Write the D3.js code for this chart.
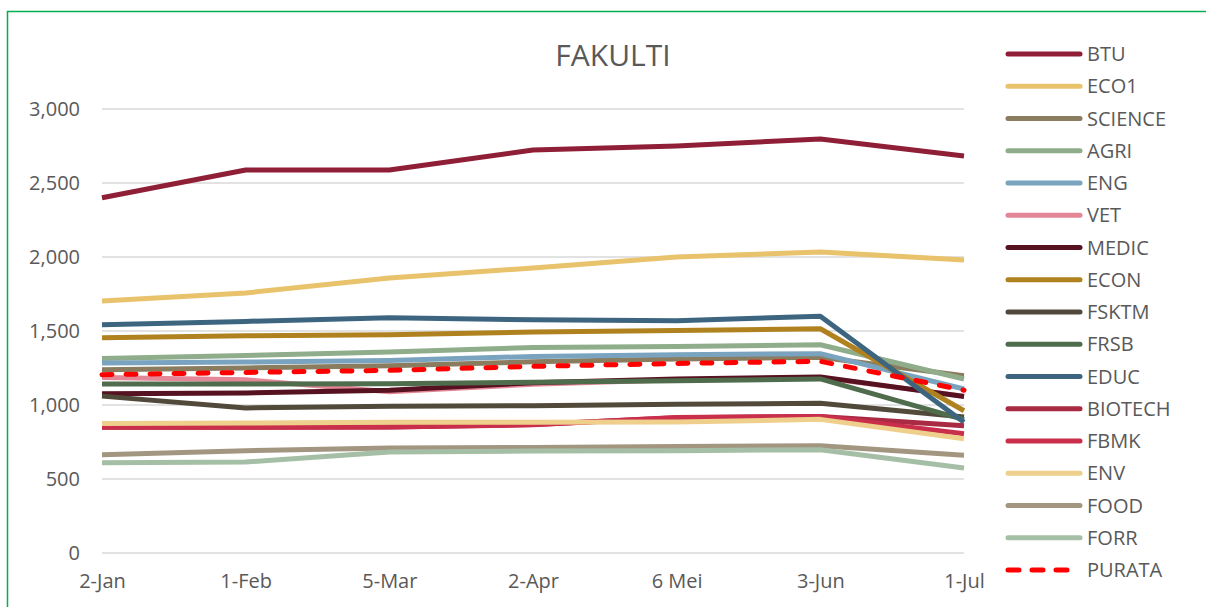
<!DOCTYPE html>
<html>
<head>
<meta charset="utf-8">
<script src="https://cdn.jsdelivr.net/npm/d3@7"></script>
<style>
  body { margin: 0; background: #ffffff; }
  text { font-family: "Open Sans", "Liberation Sans", Arial, sans-serif; fill: #595959; }
</style>
</head>
<body>
<div id="app"></div>
<script>
// categories (x axis)
const months = ["2-Jan", "1-Feb", "5-Mar", "2-Apr", "6 Mei", "3-Jun", "1-Jul"];

// series values
const btu     = [2400, 2588, 2588, 2723, 2750, 2797, 2682];
const eco1    = [1703, 1757, 1858, 1926, 2000, 2034, 1980];
const science = [1239, 1250, 1266, 1292, 1311, 1322, 1198];
const agri    = [1315, 1335, 1358, 1389, 1396, 1407, 1176];
const eng     = [1284, 1290, 1301, 1328, 1340, 1347, 1108];
const vet     = [1185, 1170, 1090, 1140, 1170, 1185, 1060];
const medic   = [1076, 1081, 1099, 1150, 1175, 1190, 1058];
const econ    = [1455, 1468, 1475, 1493, 1504, 1515, 961];
const fsktm   = [1060, 980, 991, 995, 1005, 1012, 919];
const frsb    = [1142, 1142, 1144, 1153, 1164, 1176, 901];
const educ    = [1542, 1565, 1590, 1576, 1570, 1599, 883];
const biotech = [850, 850, 852, 868, 914, 922, 860];
const fbmk    = [849, 849, 851, 866, 916, 923, 806];
const env     = [875, 878, 883, 883, 885, 903, 772];
const food    = [664, 691, 709, 713, 720, 725, 660];
const forr    = [610, 615, 682, 689, 691, 698, 574];
const purata  = [1205, 1220, 1234, 1261, 1281, 1295, 1100];

// y ticks
const yTicks = [0, 500, 1000, 1500, 2000, 2500, 3000];

const seriesNames = ["BTU", "ECO1", "SCIENCE", "AGRI", "ENG", "VET", "MEDIC", "ECON", "FSKTM",
  "FRSB", "EDUC", "BIOTECH", "FBMK", "ENV", "FOOD", "FORR", "PURATA"];
const seriesValues = [btu, eco1, science, agri, eng, vet, medic, econ, fsktm,
  frsb, educ, biotech, fbmk, env, food, forr, purata];
const colors = ["#8E1F36", "#E9C26C", "#8A7C5F", "#8FAD8B", "#79A3BE", "#E38696", "#561220",
  "#AF821F", "#514A3A", "#4F6C4D", "#3D6580", "#A92A43", "#C92F4B", "#EFCF8C", "#A39681", "#A5BFA6", "#FF0000"];

const width = 1206, height = 607;
const margin = { top: 109, left: 102, right: 242, bottom: 54 };

const svg = d3.select("#app")
  .append("svg")
  .attr("width", width)
  .attr("height", height);

// chart border (green, runs off the window)
svg.append("rect")
  .attr("x", 7.5)
  .attr("y", 11.5)
  .attr("width", 1230)
  .attr("height", 640)
  .attr("fill", "#ffffff")
  .attr("stroke", "#00B050")
  .attr("stroke-width", 1.5);

let x = d3.scalePoint()
  .domain(months)
  .range([margin.left, width - margin.right]);

let y = d3.scaleLinear()
  .domain([0, 3000])
  .range([height - margin.bottom, margin.top]);

// title
svg.append("text")
  .attr("x", 613)
  .attr("y", 66)
  .attr("text-anchor", "middle")
  .style("font-size", "30px")
  .text("FAKULTI");

// horizontal grids
svg.append("g")
  .selectAll("line")
  .data(yTicks)
  .enter()
  .append("line")
  .attr("x1", margin.left)
  .attr("x2", width - margin.right)
  .attr("y1", d => y(d))
  .attr("y2", d => y(d))
  .style("stroke", "#D9D9D9")
  .style("stroke-width", 1.5);

// y axis labels
svg.append("g")
  .attr("transform", "translate(" + (margin.left - 22) + ",0)")
  .call(d3.axisLeft(y).tickValues(yTicks).tickFormat(d3.format(",")).tickSize(0).tickPadding(0))
  .call(g => g.select(".domain").remove())
  .selectAll("text")
  .style("font-size", "20px")
  .style("font-family", "'Open Sans', 'Liberation Sans', Arial, sans-serif")
  .attr("fill", "#595959");

// x axis labels
svg.append("g")
  .attr("transform", "translate(0," + (height - margin.bottom) + ")")
  .call(d3.axisBottom(x).tickSize(0).tickPadding(21))
  .call(g => g.select(".domain").remove())
  .selectAll("text")
  .style("font-size", "20px")
  .style("font-family", "'Open Sans', 'Liberation Sans', Arial, sans-serif")
  .attr("fill", "#595959");

// lines
const line = d3.line()
  .x((d, i) => x(months[i]))
  .y(d => y(d));

seriesValues.forEach((vals, k) => {
  const p = svg.append("path")
    .datum(vals)
    .attr("d", line)
    .attr("fill", "none")
    .attr("stroke", colors[k])
    .attr("stroke-width", 5)
    .attr("stroke-linejoin", "round");
  if (seriesNames[k] === "PURATA") {
    p.attr("stroke-dasharray", "10,14").attr("stroke-linecap", "round");
  }
});

// legend
const legend = svg.append("g")
  .selectAll("g")
  .data(seriesNames)
  .enter()
  .append("g")
  .attr("transform", (d, i) => "translate(1008," + (54 + i * 32.25) + ")");

legend.append("line")
  .attr("x1", 0)
  .attr("x2", d => d === "PURATA" ? 64 : 72)
  .attr("y1", 0)
  .attr("y2", 0)
  .attr("stroke", (d, i) => colors[i])
  .attr("stroke-width", 5)
  .attr("stroke-linecap", "round")
  .attr("stroke-dasharray", d => d === "PURATA" ? "11,13" : null);

legend.append("text")
  .attr("x", 79)
  .attr("y", 0)
  .attr("dy", "0.35em")
  .style("font-size", "20px")
  .text(d => d);
</script>
</body>
</html>
